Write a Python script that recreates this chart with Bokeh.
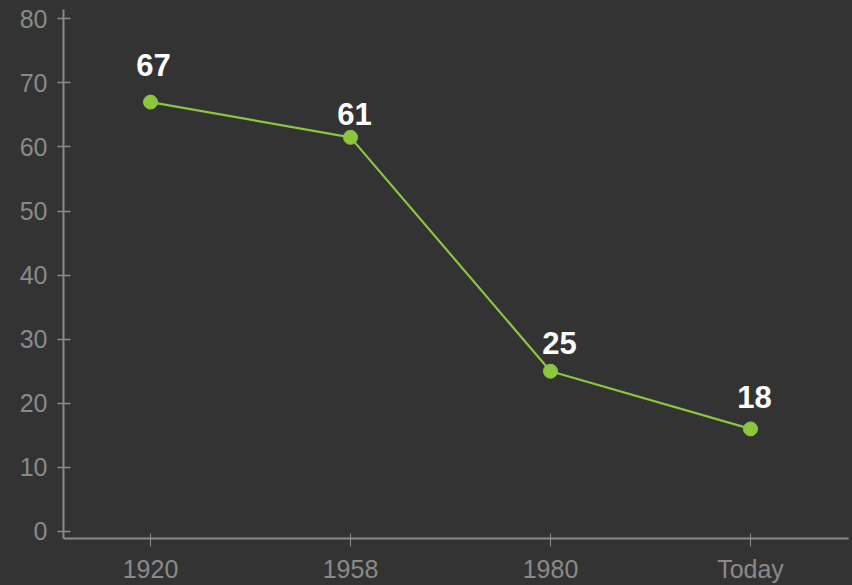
from bokeh.plotting import figure
from bokeh.models import ColumnDataSource, FixedTicker, Range1d
from bokeh.embed import file_html
from bokeh.resources import INLINE
from bokeh.core.properties import value

# ---- data ----
categories = ["1920", "1958", "1980", "Today"]
values = [67.0, 61.5, 25.0, 16.0]
labels = ["67", "61", "25", "18"]
y_ticks = [0, 10, 20, 30, 40, 50, 60, 70, 80]

# label pixel offsets (style)
label_dx = [3, 4, 9, 4]
label_dy = [-37, -23, -28, -32]

xs = list(range(len(categories)))

BG = "#333333"
GREEN = "#8cc63f"
AXIS = "#8a8a8a"

p = figure(width=852, height=585, output_backend="svg", toolbar_location=None,
           x_range=Range1d(-0.435, 3.49), y_range=Range1d(-1.1, 81.45),
           background_fill_color=BG, border_fill_color=BG,
           min_border_left=63, min_border_right=4, min_border_top=9,
           min_border_bottom=45)
p.styles = {"background-color": BG}
p.outline_line_color = None
p.grid.visible = False

src = ColumnDataSource(dict(x=xs, y=values, label=labels, dx=label_dx, dy=label_dy))

p.line("x", "y", source=src, line_color=GREEN, line_width=2.2)
p.scatter("x", "y", source=src, size=14, fill_color=GREEN, line_color=GREEN)
p.text("x", "y", text="label", source=src, x_offset="dx", y_offset="dy",
       text_align="center", text_baseline="alphabetic",
       text_color="white", text_font=value("Liberation Sans"),
       text_font_style="bold", text_font_size="31px")

# x axis
xa = p.xaxis[0]
xa.ticker = FixedTicker(ticks=xs)
xa.major_label_overrides = {i: c for i, c in enumerate(categories)}
xa.axis_line_color = AXIS
xa.axis_line_width = 2
xa.major_tick_line_color = AXIS
xa.major_tick_line_width = 1
xa.major_tick_in = 5
xa.major_tick_out = 8
xa.minor_tick_line_color = None
xa.major_label_standoff = 8
xa.major_label_text_color = AXIS
xa.major_label_text_font = "Liberation Sans"
xa.major_label_text_font_size = "25px"

# y axis
ya = p.yaxis[0]
ya.ticker = FixedTicker(ticks=y_ticks)
ya.axis_line_color = AXIS
ya.axis_line_width = 2
ya.major_tick_line_color = AXIS
ya.major_tick_line_width = 1.5
ya.major_tick_in = 7
ya.major_tick_out = 6
ya.minor_tick_line_color = None
ya.major_label_standoff = 10
ya.major_label_text_color = AXIS
ya.major_label_text_font = "Liberation Sans"
ya.major_label_text_font_size = "25px"

html = file_html(p, INLINE)
html = html.replace("<body>", '<body style="margin:0;background-color:#333333;">', 1)
open("out.html", "w").write(html)
